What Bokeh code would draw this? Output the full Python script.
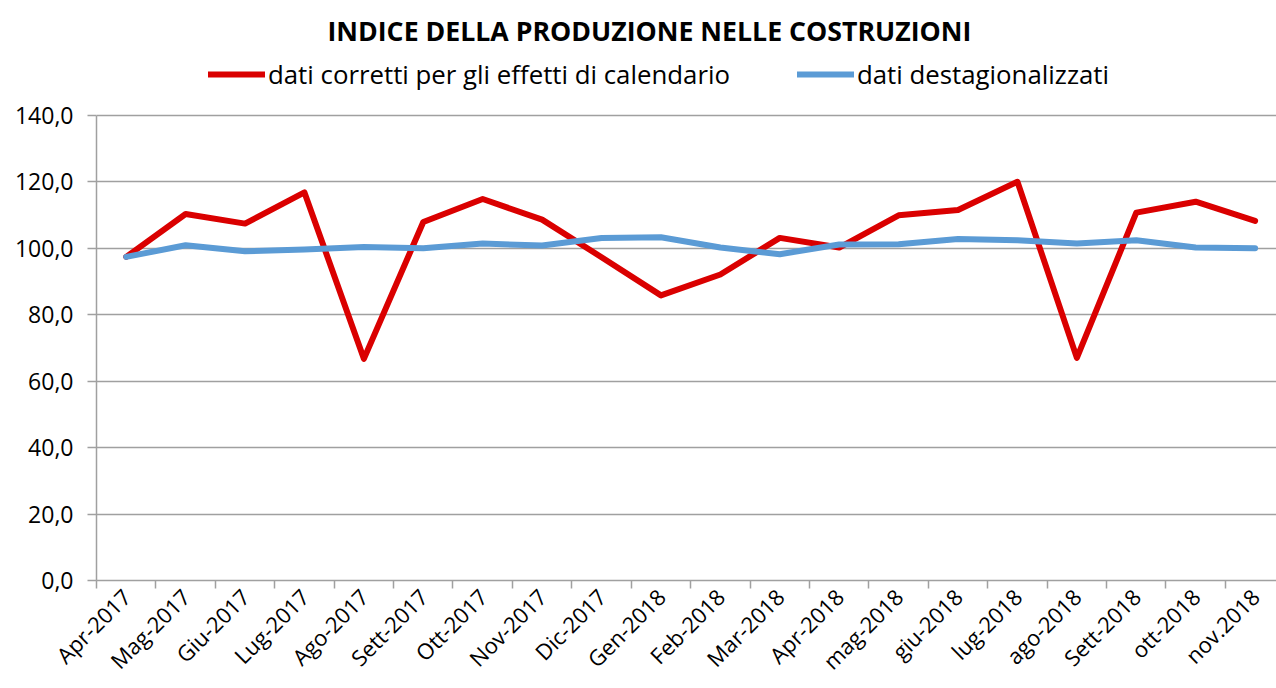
import math
from bokeh.plotting import figure
from bokeh.models import Range1d, FixedTicker, Legend, LegendItem, ColumnDataSource
from bokeh.embed import file_html
from bokeh.resources import INLINE

# ---------------- data ----------------
categories = ["Apr-2017", "Mag-2017", "Giu-2017", "Lug-2017", "Ago-2017", "Sett-2017",
              "Ott-2017", "Nov-2017", "Dic-2017", "Gen-2018", "Feb-2018", "Mar-2018",
              "Apr-2018", "mag-2018", "giu-2018", "lug-2018", "ago-2018", "Sett-2018",
              "ott-2018", "nov.2018"]
corretti = [97.4, 110.3, 107.4, 116.8, 66.7, 107.9, 114.8, 108.6, 97.3, 85.8,
            92.1, 103.1, 100.2, 109.9, 111.5, 120.0, 67.0, 110.7, 114.0, 108.2]
destagionalizzati = [97.4, 100.9, 99.1, 99.6, 100.4, 100.0, 101.4, 100.8, 103.1, 103.3,
                     100.2, 98.2, 101.1, 101.2, 102.8, 102.4, 101.4, 102.4, 100.2, 100.0]
y_ticks = [0, 20, 40, 60, 80, 100, 120, 140]
y_tick_labels = ["0,0", "20,0", "40,0", "60,0", "80,0", "100,0", "120,0", "140,0"]
series_names = ["dati corretti per gli effetti di calendario", "dati destagionalizzati"]
title_text = "INDICE DELLA PRODUZIONE NELLE COSTRUZIONI"

# ---------------- figure ----------------
FONT = "Open Sans"
GRAY = "#A0A0A0"
RED = "#DA0000"
BLUE = "#5B9BD5"

xs = list(range(len(categories)))
src = ColumnDataSource(dict(x=xs, corretti=corretti, destag=destagionalizzati))

# the frame reaches above the 140 line to host the legend; axis and grid stop at 140
p = figure(width=1276, height=688,
           x_range=Range1d(-0.5, len(categories) - 1 + 0.36),
           y_range=Range1d(0, 159.5),
           output_backend="svg", toolbar_location=None,
           min_border_left=96, min_border_right=0, min_border_bottom=107, min_border_top=50)
p.outline_line_color = None
p.background_fill_color = "white"
p.border_fill_color = "white"

r_red = p.line("x", "corretti", source=src, line_color=RED, line_width=6,
               line_cap="round", line_join="round")
r_blue = p.line("x", "destag", source=src, line_color=BLUE, line_width=6,
                line_cap="round", line_join="round")

# x axis
xa = p.xaxis[0]
xa.ticker = FixedTicker(ticks=xs, minor_ticks=[i - 0.5 for i in range(len(categories) + 1)])
xa.major_label_overrides = {i: c for i, c in enumerate(categories)}
xa.major_label_orientation = math.pi / 4
xa.major_tick_out = 0
xa.major_tick_in = 0
xa.minor_tick_out = 8
xa.minor_tick_in = 0
xa.minor_tick_line_color = GRAY
xa.minor_tick_line_width = 1.5
xa.axis_line_color = GRAY
xa.axis_line_width = 1.5
xa.major_label_standoff = 4
xa.major_label_text_font = FONT
xa.major_label_text_font_size = "22px"
xa.major_label_text_color = "black"

# y axis
ya = p.yaxis[0]
ya.ticker = FixedTicker(ticks=y_ticks)
ya.bounds = (y_ticks[0], y_ticks[-1])
ya.major_label_overrides = {t: l for t, l in zip(y_ticks, y_tick_labels)}
ya.major_tick_out = 9
ya.major_tick_in = 0
ya.major_tick_line_color = GRAY
ya.major_tick_line_width = 1.5
ya.minor_tick_line_color = None
ya.axis_line_color = GRAY
ya.axis_line_width = 1.5
ya.major_label_standoff = 14
ya.major_label_text_font = FONT
ya.major_label_text_font_size = "23px"
ya.major_label_text_color = "black"

p.xgrid.visible = False
p.ygrid.ticker = FixedTicker(ticks=y_ticks)
p.ygrid.grid_line_color = GRAY
p.ygrid.grid_line_width = 1.5

# title
p.title.text = title_text
p.title.align = "left"
p.title.offset = 231
p.title.standoff = 3
p.title.text_font = FONT
p.title.text_font_size = "26.7px"
p.title.text_font_style = "bold"
p.title.text_color = "black"

legend = Legend(items=[LegendItem(label=series_names[0], renderers=[r_red]),
                       LegendItem(label=series_names[1], renderers=[r_blue])],
                orientation="horizontal", location=(112, 488),
                glyph_width=57, glyph_height=20, label_standoff=3, spacing=67,
                padding=0, margin=0,
                label_text_font=FONT, label_text_font_size="25.8px",
                label_text_color="black",
                border_line_color=None, background_fill_alpha=0)
p.add_layout(legend, "center")

open("out.html", "w").write(file_html(p, INLINE))
